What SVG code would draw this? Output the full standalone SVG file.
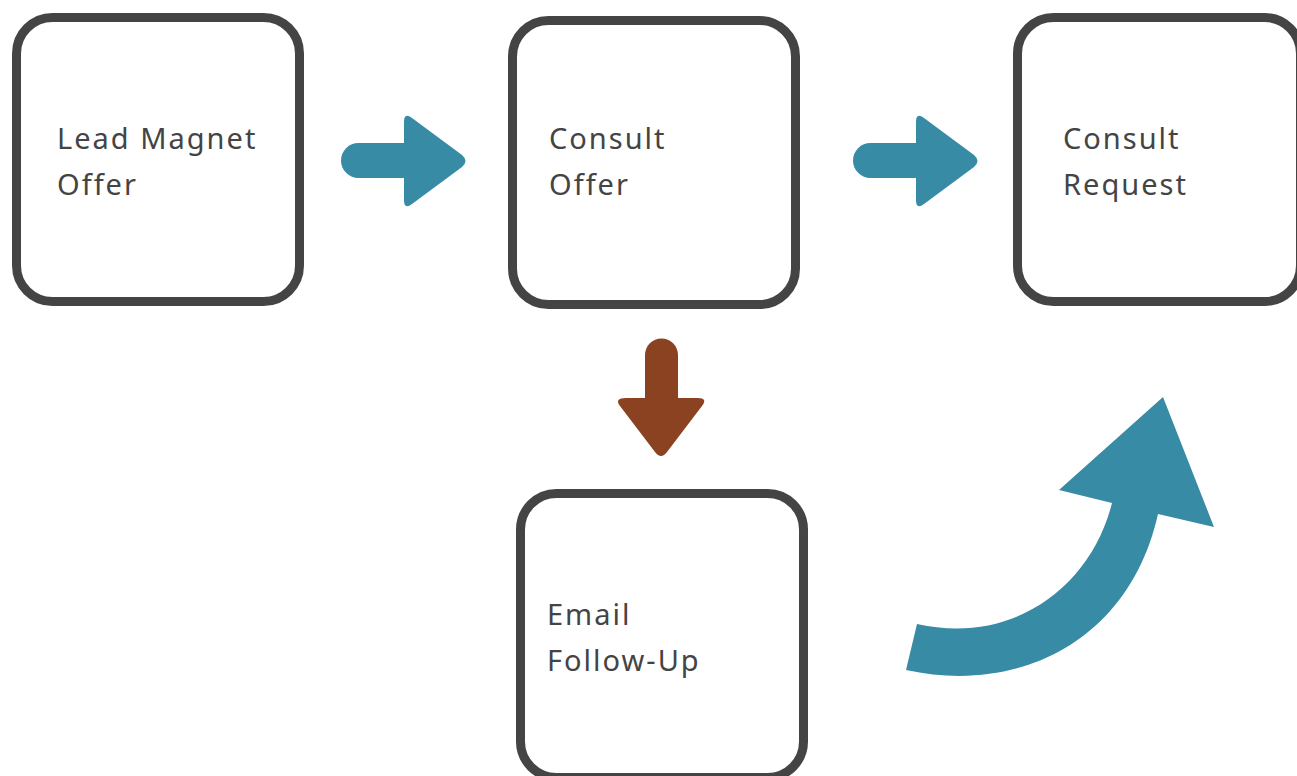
<svg xmlns="http://www.w3.org/2000/svg" width="1297" height="776" viewBox="0 0 1297 776">
<style>
.box{fill:#fff;stroke:#444;stroke-width:9}
.lbl{font-family:"Noto Sans","Liberation Sans",sans-serif;font-size:29px;fill:#444;letter-spacing:2px}
.teal{fill:#378BA4}
.brown{fill:#8B4220}
</style>
<rect width="1297" height="776" fill="#fff"/>
<g id="connectors">
<g id="arrow1" class="teal">
<path d="M358.5,143 H405 V178 H358.5 A17.5,17.5 0 0 1 358.5,143 Z"/>
<path d="M404,122 Q404,112 412,118 L462,155 Q469,161 462,167 L412,204 Q404,210 404,200 Z"/>
</g>
<g id="arrow2" class="teal">
<path d="M870.5,143 H917 V178 H870.5 A17.5,17.5 0 0 1 870.5,143 Z"/>
<path d="M916,122 Q916,112 924,118 L974,155 Q981,161 974,167 L924,204 Q916,210 916,200 Z"/>
</g>
<g id="arrow3" class="brown">
<path d="M645,355 A16.5,16.5 0 0 1 678,355 V400 H645 Z"/>
<path d="M626,398 H698 Q708,398 702,406 L667,452 Q661,460 655,452 L620,406 Q614,398 626,398 Z"/>
</g>
<g id="arrow4" class="teal">
<path d="M906,670 L917,624 C1010,645 1090,590 1112,503 L1059,490 L1163,397 L1214,527 L1158,514 C1130,640 1020,695 906,670 Z"/>
</g>
</g>
<g id="node-lead">
<rect class="box" x="16.5" y="17.5" width="283" height="284" rx="36"/>
<text class="lbl" x="57" y="149">Lead Magnet</text>
<text class="lbl" x="57" y="195">Offer</text>
</g>
<g id="node-consult-offer">
<rect class="box" x="512.5" y="20.5" width="283" height="284" rx="36"/>
<text class="lbl" x="549" y="149">Consult</text>
<text class="lbl" x="549" y="195">Offer</text>
</g>
<g id="node-consult-request">
<rect class="box" x="1017.5" y="17.5" width="283" height="284" rx="36"/>
<text class="lbl" x="1063" y="149">Consult</text>
<text class="lbl" x="1063" y="195">Request</text>
</g>
<g id="node-email">
<rect class="box" x="520.5" y="493.5" width="283" height="284" rx="36"/>
<text class="lbl" x="547" y="625">Email</text>
<text class="lbl" x="547" y="671">Follow-Up</text>
</g>
</svg>
